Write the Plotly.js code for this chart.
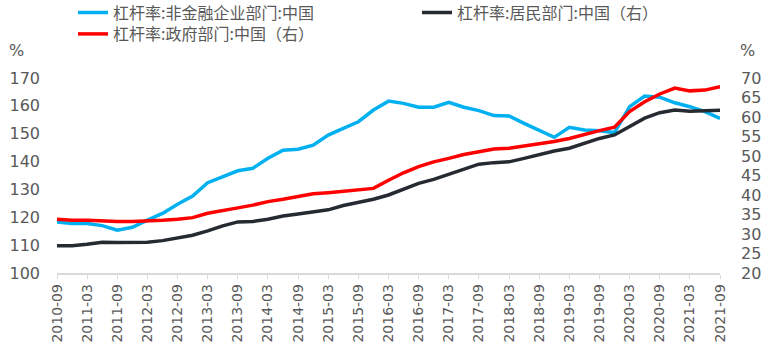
<!DOCTYPE html>
<html>
<head>
<meta charset="utf-8">
<script src="https://cdn.plot.ly/plotly-3.0.1.min.js"></script>
<style>
html,body{margin:0;padding:0;background:#fff;}
#chart{width:768px;height:355px;}
</style>
</head>
<body>
<div id="chart"></div>
<script>
const quarters = ["2010-09","2010-12","2011-03","2011-06","2011-09","2011-12","2012-03","2012-06","2012-09","2012-12",
"2013-03","2013-06","2013-09","2013-12","2014-03","2014-06","2014-09","2014-12","2015-03","2015-06",
"2015-09","2015-12","2016-03","2016-06","2016-09","2016-12","2017-03","2017-06","2017-09","2017-12",
"2018-03","2018-06","2018-09","2018-12","2019-03","2019-06","2019-09","2019-12","2020-03","2020-06",
"2020-09","2020-12","2021-03","2021-06","2021-09"];
const tickLabels = ["2010-09","2011-03","2011-09","2012-03","2012-09","2013-03","2013-09","2014-03","2014-09",
"2015-03","2015-09","2016-03","2016-09","2017-03","2017-09","2018-03","2018-09","2019-03","2019-09",
"2020-03","2020-09","2021-03","2021-09"];
const corporate = [118.3,117.8,117.8,117.0,115.4,116.4,119.0,121.4,124.7,127.6,
132.4,134.6,136.7,137.6,141.2,144.1,144.4,145.9,149.5,151.9,
154.3,158.5,161.7,160.9,159.5,159.5,161.3,159.5,158.3,156.5,
156.4,153.7,151.1,148.7,152.3,151.3,151.1,150.4,159.7,163.5,
163.1,161.1,159.7,157.9,155.5];
const household = [27.0,27.0,27.4,27.9,27.8,27.8,27.9,28.3,29.1,29.7,
30.8,32.1,33.1,33.2,33.8,34.6,35.1,35.6,36.2,37.3,
38.0,38.9,40.0,41.5,43.0,44.0,45.3,46.6,47.9,48.3,
48.5,49.4,50.4,51.3,52.0,53.3,54.5,55.4,57.5,59.7,
61.1,61.8,61.5,61.5,61.7];
const government = [33.8,33.5,33.5,33.3,33.2,33.2,33.3,33.5,33.8,34.2,
35.3,35.9,36.7,37.4,38.3,38.9,39.7,40.3,40.6,41.0,
41.3,41.7,43.8,45.7,47.3,48.5,49.4,50.4,51.1,51.8,
52.0,52.6,53.0,53.7,54.5,55.6,56.5,57.4,61.4,63.9,
65.9,67.4,66.7,66.9,67.8];
const names = ["杠杆率:非金融企业部门:中国","杠杆率:居民部门:中国（右）","杠杆率:政府部门:中国（右）"];

const latin = "DejaVu Sans, Arial, sans-serif";
const tickFont = {family:latin, size:16, color:"#595959"};
const cjk = "Noto Sans CJK SC, sans-serif";
const legFont = {family:cjk, size:16, color:"#595959"};

const traces = [
  {x:quarters, y:corporate, name:names[0], type:"scatter", mode:"lines", yaxis:"y",
   line:{color:"#00B0F0", width:3.5}, legend:"legend"},
  {x:quarters, y:household, name:names[1], type:"scatter", mode:"lines", yaxis:"y2",
   line:{color:"#262B33", width:3.5}, legend:"legend3"},
  {x:quarters, y:government, name:names[2], type:"scatter", mode:"lines", yaxis:"y2",
   line:{color:"#FF0000", width:3.5}, legend:"legend2"}
];

function leg(xpx, ycenter){
  return {orientation:"h", xref:"container", yref:"container", x:xpx/768, y:1-ycenter/355,
    xanchor:"left", yanchor:"middle", font:legFont, bgcolor:"rgba(0,0,0,0)", itemclick:false};
}

const layout = {
  width:768, height:355,
  margin:{l:57, r:48, t:78, b:82},
  paper_bgcolor:"#fff", plot_bgcolor:"#fff",
  showlegend:true,
  xaxis:{type:"category", range:[0,44], tickmode:"array", tickvals:tickLabels, ticktext:tickLabels,
    tickangle:-90, tickfont:{family:latin, size:14, color:"#595959"},
    showline:true, linecolor:"#d9d9d9", linewidth:1.5, ticks:"outside", ticklen:4, tickcolor:"#d9d9d9",
    showgrid:false, zeroline:false, fixedrange:true},
  yaxis:{range:[100,170], dtick:10, tick0:100, showgrid:false, zeroline:false, showline:false,
    tickfont:tickFont, ticklabelstandoff:16, ticks:""},
  yaxis2:{range:[20,70], dtick:5, tick0:20, overlaying:"y", side:"right", showgrid:false, zeroline:false,
    showline:false, tickfont:tickFont, ticklabelstandoff:20, ticks:""},
  legend:leg(73,12.5),
  legend3:leg(417,12.5),
  legend2:leg(73,34),
  annotations:[
    {text:"%", xref:"paper", yref:"paper", x:-50/663, y:(273-50)/195, xanchor:"left", yanchor:"middle",
     showarrow:false, font:{family:latin, size:16, color:"#595959"}},
    {text:"%", xref:"paper", yref:"paper", x:1+18/663, y:(273-50)/195, xanchor:"left", yanchor:"middle",
     showarrow:false, font:{family:latin, size:16, color:"#595959"}}
  ]
};
Plotly.newPlot("chart", traces, layout, {displayModeBar:false, staticPlot:true});
</script>
</body>
</html>
